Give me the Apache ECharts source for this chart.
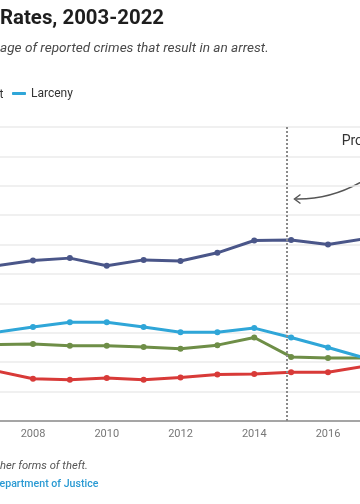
<!DOCTYPE html>
<html><head><meta charset="utf-8">
<script src="https://cdn.jsdelivr.net/npm/echarts@6/dist/echarts.min.js"></script>
<style>html,body{margin:0;padding:0;background:#fff;overflow:hidden}#c{width:360px;height:504px}</style>
</head><body><div id="c"></div>
<script>
// Visible portion of the chart (years 2007-2017 partly in view)
const years    = [2007, 2008, 2009, 2010, 2011, 2012, 2013, 2014, 2015, 2016, 2017];
const robbery  = [26.4, 27.3, 27.7, 26.4, 27.4, 27.2, 28.6, 30.7, 30.8, 30.0, 31.0];
const larceny  = [15.1, 16.0, 16.8, 16.8, 16.0, 15.1, 15.1, 15.8, 14.2, 12.5, 10.7];
const burglary = [13.0, 13.1, 12.8, 12.8, 12.6, 12.3, 12.9, 14.2, 10.9, 10.7, 10.7];
const mvt      = [8.5, 7.2, 7.0, 7.3, 7.0, 7.4, 7.9, 8.0, 8.3, 8.3, 9.3];
const prop47Year = 2014.88;

const FONT = 'Roboto, "Noto Sans", sans-serif';
const pairs = arr => years.map((y, i) => [y, arr[i]]);
function lineSeries(name, arr, color) {
  return {
    name, type: 'line', data: pairs(arr), color,
    symbol: 'circle', symbolSize: 6,
    lineStyle: { width: 3, color }, itemStyle: { color },
    emphasis: { disabled: true }, z: 3
  };
}

const chart = echarts.init(document.getElementById('c'), null, { renderer: 'canvas' });
const series = [
  lineSeries('Robbery', robbery, '#4a5689'),
  lineSeries('Burglary', burglary, '#6e8e47'),
  lineSeries('Motor Vehicle Theft', mvt, '#d83a38'),
  lineSeries('Larceny', larceny, '#2fa6d8')
];
series[1].markLine = {
  silent: true, symbol: ['none', 'none'], label: { show: false },
  lineStyle: { type: 'dotted', color: '#8a8a8a', width: 2 },
  data: [{ xAxis: prop47Year }]
};

chart.setOption({
  animation: false,
  backgroundColor: '#fff',
  grid: { left: -40.75, right: -41.75, top: 127, bottom: 83, containLabel: false, outerBoundsMode: 'none' },
  xAxis: {
    type: 'value', min: 2006, max: 2018, interval: 2,
    axisLine: { show: true, lineStyle: { color: '#8c8c8c', width: 1.5 } },
    axisTick: { show: false },
    splitLine: { show: false },
    axisLabel: { color: '#777', fontSize: 11, fontFamily: FONT, margin: 8, formatter: v => String(v) }
  },
  yAxis: {
    type: 'value', min: 0, max: 50, interval: 5,
    axisLine: { show: false }, axisTick: { show: false },
    axisLabel: { show: false },
    splitLine: { lineStyle: { color: '#ebebeb', width: 1.5 } }
  },
  legend: {
    data: ['Larceny'], left: 12, top: 87.5, padding: 0,
    icon: 'roundRect', itemWidth: 14, itemHeight: 3,
    textStyle: { color: '#333', fontSize: 12, fontFamily: FONT },
    selectedMode: false
  },
  series,
  graphic: [
    { type: 'text', x: 0, y: 18.5, style: { text: 'Rates, 2003-2022', fill: '#1e1e1e', font: 'bold 20.4px ' + FONT, verticalAlign: 'middle' } },
    { type: 'text', x: 0, y: 48.5, style: { text: 'age of reported crimes that result in an arrest.', fill: '#4a4a4a', font: 'italic 13.6px ' + FONT, verticalAlign: 'middle' } },
    { type: 'text', x: 3.5, y: 94.5, style: { text: 'Motor Vehicle Theft', fill: '#333', font: '12px ' + FONT, align: 'right', verticalAlign: 'middle' } },
    { type: 'text', x: 0, y: 466.5, style: { text: 'her forms of theft.', fill: '#555', font: 'italic 11.2px ' + FONT, verticalAlign: 'middle' } },
    { type: 'text', x: -0.5, y: 484.5, style: { text: 'epartment of Justice', fill: '#2a9ad3', font: '500 10.6px ' + FONT, verticalAlign: 'middle' } }
  ]
});

// Annotation anchored to data coordinates
const tip = chart.convertToPixel({ gridIndex: 0 }, [2015.09, 37.76]);
const lab = chart.convertToPixel({ gridIndex: 0 }, [2016.37, 47.53]);
chart.setOption({
  graphic: [
    { type: 'text', id: 'ann', x: lab[0], y: lab[1], style: { text: 'Proposition 47', fill: '#333', font: '14px ' + FONT, verticalAlign: 'middle' } },
    { type: 'bezierCurve', id: 'arc', shape: { x1: tip[0] + 85, y1: tip[1] - 29, cpx1: tip[0] + 45, cpy1: tip[1] + 1, x2: tip[0] + 1, y2: tip[1] }, style: { stroke: '#555', lineWidth: 1.4, fill: null } },
    { type: 'polyline', id: 'head', shape: { points: [[tip[0] + 6, tip[1] - 4.5], [tip[0], tip[1]], [tip[0] + 6, tip[1] + 4.5]] }, style: { stroke: '#555', lineWidth: 1.4, fill: null } }
  ]
});
</script>
</body></html>
